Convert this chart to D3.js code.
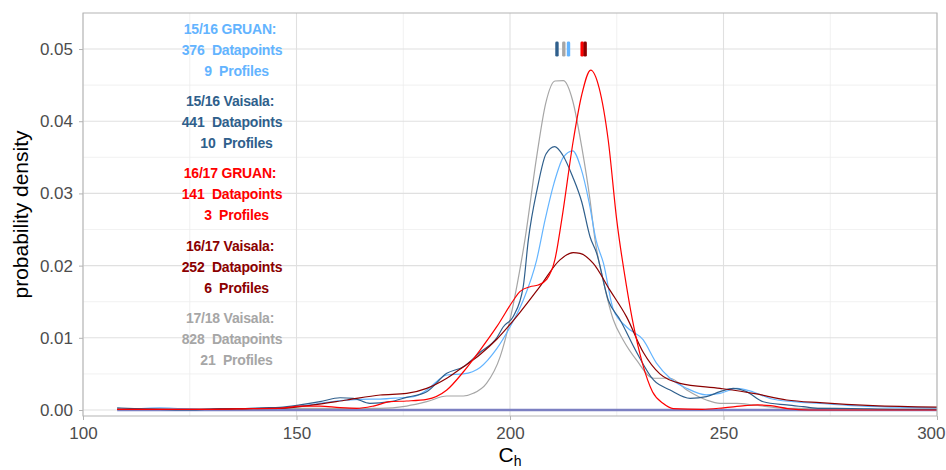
<!DOCTYPE html>
<html>
<head>
<meta charset="utf-8">
<script src="https://cdn.jsdelivr.net/npm/d3@7"></script>
<style>
  body { margin: 0; background: #fff; }
  svg { display: block; font-family: "Liberation Sans", Arial, sans-serif; }
  .pre { white-space: pre; }
</style>
</head>
<body>
<svg id="chart" width="946" height="470"></svg>
<script>
// ---------------- data ----------------
const seriesNames = ["17/18 Vaisala", "15/16 GRUAN", "15/16 Vaisala", "16/17 Vaisala", "16/17 GRUAN"];
const seriesColors = ["#a6a6a6", "#63b4ff", "#2f5f8c", "#8b0000", "#ff0000"];

const greyX = [108,120,130,140,146.1,153.9,161.8,169.6,175.8,180.5,185.2,189.1,191.4,194.5,197.7,200,202.3,203.5,206.25,208.36,210.54,212.48,214.68,216.79,218.74,219.9,221.8,224.2,226.5,229.65,233.6,237.5,241.4,246,249.2,253.1,257,264.8,272.6,285,300];
const greyY = [0.0001,0.0001,0.0001,0.0002,0.00023,0.00023,0.00023,0.00023,0.00055,0.00115,0.00194,0.00194,0.00231,0.0037,0.0074,0.0125,0.0194,0.0236,0.0351,0.04247,0.04557,0.04561,0.04284,0.03647,0.0291,0.0236,0.018,0.0125,0.0097,0.0069,0.0044,0.0044,0.00277,0.00139,0.00092,0.00092,0.0007,0.00023,0.00023,0.0001,0.0001];

const lblueX = [108,113,118,123,130,138,146.1,150.8,155.5,160.2,164.9,169.6,174.2,177.4,180.5,185.2,189.1,193,196.9,200,203.1,206.25,208.2,210.3,212.48,214.68,216.63,218.57,220.14,221.9,224.2,227.3,231.2,234.3,237.5,241.4,246,249.2,253.1,257,260.9,266.4,272.6,280,290,300];
const lblueY = [0.0001,0.0002,0.0003,0.0002,0.0001,0.0001,0.00023,0.00055,0.00092,0.00129,0.00148,0.00152,0.0017,0.00185,0.00277,0.00485,0.005,0.0059,0.0085,0.0115,0.0152,0.0208,0.0263,0.0314,0.035,0.0359,0.03347,0.02863,0.02355,0.0203,0.0139,0.0115,0.0097,0.0065,0.0044,0.0030,0.0021,0.0023,0.0030,0.0025,0.0016,0.00115,0.0009,0.0006,0.0004,0.0003];

const dblueX = [108,112,118,125,132,138,142,146.1,150.8,155.5,160.2,163.3,167.2,171.9,175.8,180.5,185.2,189.1,193,196.9,198.4,200.8,203.1,204.3,206.4,208.43,210.46,212.33,214.68,216.79,218.74,220.3,223,225.8,229.65,233.6,237.5,242.2,246,249.2,252.3,255.4,259.3,264.8,268.7,272.6,280,290,300];
const dblueY = [0.0003,0.0002,0.0001,0.0,0.0002,0.0002,0.0003,0.00037,0.0007,0.00115,0.0017,0.00162,0.00092,0.00115,0.00175,0.00254,0.00508,0.006,0.0080,0.0100,0.0115,0.0130,0.0171,0.0236,0.0307,0.03546,0.03647,0.03532,0.03231,0.02885,0.0240,0.0217,0.01524,0.01247,0.0080,0.00416,0.00277,0.00162,0.00185,0.00254,0.0030,0.00254,0.00115,0.0007,0.00046,0.00023,0.0002,0.0001,0.0001];

const dredX = [108,120,130,140,146.1,153.9,161.8,169.6,175.8,180.5,185.2,189.1,193,196.9,202.3,207,211.7,214.8,216.4,219.5,223.4,227.3,231.2,235.1,239.8,249.2,257,264.8,272.6,285,300];
const dredY = [0.0001,0.0001,0.0001,0.0002,0.00023,0.0007,0.00139,0.00208,0.00231,0.003,0.00439,0.006,0.0077,0.0098,0.0135,0.0171,0.0208,0.0218,0.0217,0.0203,0.0166,0.0129,0.0080,0.0050,0.0037,0.0030,0.00231,0.00139,0.00101,0.0006,0.0004];

const redX = [108,120,130,140,146.1,150.8,155.5,160.2,164.1,168,171.9,175.8,180.5,185.2,189.1,193,196.9,200.8,202.3,204.7,206.6,208.6,210.5,212.1,214.84,216.79,218.9,220.9,223,225,227.3,229,231,233.4,235.9,238.2,245,250,255,258,261,265,270,280,300];
const redY = [0.0001,0.0001,0.0001,0.0002,0.00023,0.00055,0.00055,0.00032,0.00023,0.00055,0.00115,0.00125,0.00148,0.00277,0.0053,0.0083,0.01154,0.0152,0.0164,0.01708,0.01731,0.0181,0.02078,0.0263,0.0374,0.04363,0.04709,0.04456,0.0374,0.0263,0.0171,0.0115,0.0065,0.0025,0.0009,0.0002,0.0001,0.0003,0.0006,0.0007,0.0006,0.0002,0.0,0.0,0.0];

const seriesX = [greyX, lblueX, dblueX, dredX, redX];
const seriesY = [greyY, lblueY, dblueY, dredY, redY];

// medians (top markers), drawn in order
const markerNames = ["17/18 Vaisala", "15/16 Vaisala", "15/16 GRUAN", "16/17 GRUAN", "16/17 Vaisala"];
const markerX = [212.6, 211.0, 213.7, 216.9, 217.6];
const markerColors = ["#a6a6a6", "#2f5f8c", "#63b4ff", "#ff0000", "#8b0000"];

// annotation labels
const labelTitles = ["15/16 GRUAN:", "15/16 Vaisala:", "16/17 GRUAN:", "16/17 Vaisala:", "17/18 Vaisala:"];
const labelPoints = [376, 441, 141, 252, 828];
const labelProfiles = [9, 10, 3, 6, 21];
const labelY = [0.05, 0.04, 0.03, 0.02, 0.01];
const labelColors = ["#63b4ff", "#2f5f8c", "#ff0000", "#8b0000", "#a6a6a6"];
const labelXval = 134.9;

const xTicks = [100, 150, 200, 250, 300];
const xMinor = [125, 175, 225, 275];
const yTicks = [0, 0.01, 0.02, 0.03, 0.04, 0.05];
const yMinor = [0.005, 0.015, 0.025, 0.035, 0.045];

// ---------------- layout ----------------
const L = 83, R = 937, T = 13, B = 416;
const x = d3.scaleLinear().domain([100, 300]).range([L, R]);
const y = d3.scaleLinear().domain([-0.00083, 0.05499]).range([B, T]);

const svg = d3.select("#chart");

svg.append("defs").append("clipPath").attr("id", "clip")
  .append("rect").attr("x", L).attr("y", T).attr("width", R - L).attr("height", B - T);

// grid
const grid = svg.append("g");
grid.selectAll(".ymin").data(yMinor).join("line")
  .attr("x1", L).attr("x2", R).attr("y1", d => y(d)).attr("y2", d => y(d))
  .attr("stroke", "#ededed").attr("stroke-width", 0.8);
grid.selectAll(".xmin").data(xMinor).join("line")
  .attr("y1", T).attr("y2", B).attr("x1", d => x(d)).attr("x2", d => x(d))
  .attr("stroke", "#ededed").attr("stroke-width", 0.8);
grid.selectAll(".ymaj").data(yTicks).join("line")
  .attr("x1", L).attr("x2", R).attr("y1", d => y(d)).attr("y2", d => y(d))
  .attr("stroke", "#e0e0e0").attr("stroke-width", 1.1);
grid.selectAll(".xmaj").data(xTicks).join("line")
  .attr("y1", T).attr("y2", B).attr("x1", d => x(d)).attr("x2", d => x(d))
  .attr("stroke", "#e0e0e0").attr("stroke-width", 1.1);

// curves
const plot = svg.append("g").attr("clip-path", "url(#clip)");
const line = d3.line().x(d => x(d[0])).y(d => y(d[1])).curve(d3.curveMonotoneX);

// baseline of the density outlines
plot.append("line")
  .attr("x1", x(108)).attr("x2", x(300)).attr("y1", y(0)).attr("y2", y(0))
  .attr("stroke", "#7c80c2").attr("stroke-width", 2.4);

seriesX.forEach((xs, i) => {
  const pts = xs.map((v, j) => [v, seriesY[i][j]]);
  plot.append("path").datum(pts)
    .attr("d", line)
    .attr("fill", "none")
    .attr("stroke", seriesColors[i])
    .attr("stroke-width", 1.2)
    .attr("stroke-linejoin", "round");
});

// markers
plot.selectAll(".mk").data(markerX).join("rect")
  .attr("x", d => x(d) - 1.7).attr("y", y(0.05) - 7.5)
  .attr("width", 3.4).attr("height", 15).attr("rx", 1.4)
  .attr("fill", (d, i) => markerColors[i]);

// annotation text
const ann = svg.append("g")
  .attr("font-weight", "bold").attr("font-size", 14)
  .attr("letter-spacing", "-0.2px").attr("text-anchor", "middle");
labelTitles.forEach((t, i) => {
  const cy = y(labelY[i]);
  const cx = x(labelXval);
  const g = ann.append("g").attr("fill", labelColors[i]);
  g.append("text").attr("class", "pre").attr("x", cx - 2).attr("y", cy - 21 + 6).text(t);
  g.append("text").attr("class", "pre").attr("x", cx).attr("y", cy + 6).text(labelPoints[i] + "  Datapoints");
  g.append("text").attr("class", "pre").attr("x", cx + 4.5).attr("y", cy + 21 + 6).text(labelProfiles[i] + "  Profiles");
});

// panel border
svg.append("rect").attr("x", L).attr("y", T).attr("width", R - L).attr("height", B - T)
  .attr("fill", "none").attr("stroke", "#b3b3b3").attr("stroke-width", 1);

// axes
const xAxis = svg.append("g").attr("transform", `translate(0,${B})`)
  .call(d3.axisBottom(x).tickValues(xTicks).tickFormat(d3.format("d")).tickSize(4).tickPadding(7));
const yAxis = svg.append("g").attr("transform", `translate(${L},0)`)
  .call(d3.axisLeft(y).tickValues(yTicks).tickFormat(d3.format(".2f")).tickSize(4).tickPadding(6));
[xAxis, yAxis].forEach(a => {
  a.select(".domain").remove();
  a.selectAll(".tick line").attr("stroke", "#b3b3b3");
  a.selectAll(".tick text").attr("fill", "#4d4d4d").attr("font-size", 17)
    .attr("font-family", "Liberation Sans, Arial, sans-serif");
});
// keep the last x label inside the picture
xAxis.selectAll(".tick text").filter(d => d === 300)
  .attr("text-anchor", "end").attr("x", 946 - R - 1);

// axis titles
svg.append("text").attr("transform", `translate(28,${(T + B) / 2}) rotate(-90)`)
  .attr("text-anchor", "middle").attr("font-size", 21).attr("fill", "#000")
  .text("probability density");
const xt = svg.append("text").attr("x", (L + R) / 2).attr("y", 462)
  .attr("text-anchor", "middle").attr("font-size", 21).attr("fill", "#000");
xt.append("tspan").text("C");
xt.append("tspan").attr("font-size", 14).attr("dy", 4).text("h");
</script>
</body>
</html>
